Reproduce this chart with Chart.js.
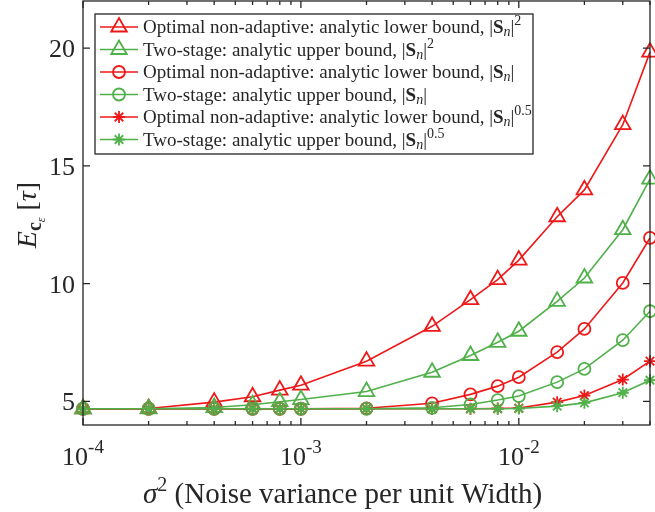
<!DOCTYPE html>
<html>
<head>
<meta charset="utf-8">
<script src="https://cdn.jsdelivr.net/npm/chart.js@4"></script>
<style>
  body { margin: 0; background: #fff; }
</style>
</head>
<body>
<canvas id="myChart" width="655" height="512"></canvas>
<script>
// noise variance per unit width (x axis)
const sigma2 = [1e-4, 2e-4, 4e-4, 6e-4, 8e-4, 1e-3, 2e-3, 4e-3, 6e-3, 8e-3, 1e-2, 1.5e-2, 2e-2, 3e-2, 4e-2];

// |S_n|^2
const lowerSq = [4.69, 4.70, 4.97, 5.20, 5.48, 5.69, 6.71, 8.19, 9.32, 10.17, 11.0, 12.84, 13.98, 16.75, 19.83];
const upperSq = [4.69, 4.69, 4.74, 4.86, 4.99, 5.08, 5.42, 6.24, 6.95, 7.51, 7.98, 9.25, 10.24, 12.29, 14.44];
// |S_n|
const lowerLin = [4.69, 4.69, 4.69, 4.69, 4.69, 4.69, 4.71, 4.92, 5.30, 5.65, 6.03, 7.09, 8.08, 10.03, 11.94];
const upperLin = [4.69, 4.69, 4.69, 4.69, 4.69, 4.69, 4.69, 4.73, 4.87, 5.06, 5.23, 5.82, 6.38, 7.60, 8.83];
// |S_n|^0.5
const lowerSqrt = [4.69, 4.69, 4.69, 4.69, 4.69, 4.69, 4.69, 4.69, 4.69, 4.70, 4.72, 4.97, 5.25, 5.93, 6.71];
const upperSqrt = [4.69, 4.69, 4.69, 4.69, 4.69, 4.69, 4.69, 4.69, 4.69, 4.69, 4.70, 4.80, 4.94, 5.37, 5.90];

const yTicks = [5, 10, 15, 20];
const xDecades = [1e-4, 1e-3, 1e-2];
const xDecadeLabels = ['-4', '-3', '-2'];

const RED = 'rgb(238,24,24)';
const GREEN = 'rgb(80,176,74)';
const INK = '#262626';
const SERIF = '"Liberation Serif", "DejaVu Serif", serif';

const legendRows = [
  { name: 'Optimal non-adaptive: analytic lower bound, ', pow: '2' },
  { name: 'Two-stage: analytic upper bound, ', pow: '2' },
  { name: 'Optimal non-adaptive: analytic lower bound, ', pow: '' },
  { name: 'Two-stage: analytic upper bound, ', pow: '' },
  { name: 'Optimal non-adaptive: analytic lower bound, ', pow: '0.5' },
  { name: 'Two-stage: analytic upper bound, ', pow: '0.5' }
];

function series(vals, color, style, radius, i) {
  return {
    data: sigma2.map((x, k) => ({ x, y: vals[k] })),
    borderColor: color,
    backgroundColor: color,
    borderWidth: 1.6,
    pointStyle: style,
    pointRadius: radius,
    pointBorderWidth: 1.8,
    pointBorderColor: color,
    pointBackgroundColor: 'rgba(0,0,0,0)',
    clip: false,
    order: 10 - i
  };
}

const datasets = [
  series(lowerSq, RED, 'triangle', 9, 0),
  series(upperSq, GREEN, 'triangle', 9, 1),
  series(lowerLin, RED, 'circle', 6, 2),
  series(upperLin, GREEN, 'circle', 6, 3),
  series(lowerSqrt, RED, 'star', 6, 4),
  series(upperSqrt, GREEN, 'star', 6, 5)
];

function rich(ctx, x, y, segs) {
  segs.forEach(s => {
    ctx.font = s.f;
    ctx.fillText(s.t, x, y + (s.dy || 0));
    x += ctx.measureText(s.t).width;
  });
  return x;
}
function richWidth(ctx, segs) {
  let w = 0;
  segs.forEach(s => { ctx.font = s.f; w += ctx.measureText(s.t).width; });
  return w;
}

const frame = {
  id: 'frame',
  afterDatasetsDraw(chart) {
    const ctx = chart.ctx, a = chart.chartArea;
    const xs = chart.scales.x, ys = chart.scales.y;
    ctx.save();
    ctx.strokeStyle = INK;
    ctx.lineWidth = 1.3;
    ctx.strokeRect(a.left, a.top, a.right - a.left, a.bottom - a.top);
    ctx.beginPath();
    // x ticks, major + minor, inward from bottom and top
    xDecades.forEach(d => {
      for (let m = 1; m <= 9; m++) {
        const v = d * m;
        if (v > xs.max) break;
        const px = xs.getPixelForValue(v);
        const len = m === 1 ? 7 : 4;
        ctx.moveTo(px, a.bottom); ctx.lineTo(px, a.bottom - len);
        ctx.moveTo(px, a.top); ctx.lineTo(px, a.top + len);
      }
    });
    yTicks.forEach(v => {
      const py = ys.getPixelForValue(v);
      ctx.moveTo(a.left, py); ctx.lineTo(a.left + 7, py);
      ctx.moveTo(a.right, py); ctx.lineTo(a.right - 7, py);
    });
    ctx.stroke();

    ctx.fillStyle = INK;
    ctx.textBaseline = 'alphabetic';
    // y tick labels
    ctx.textAlign = 'right';
    ctx.font = '26px ' + SERIF;
    yTicks.forEach(v => {
      ctx.fillText(String(v), a.left - 8, ys.getPixelForValue(v) + 9);
    });
    // x tick labels 10^k
    ctx.textAlign = 'left';
    xDecades.forEach((d, i) => {
      const segs = [
        { t: '10', f: '26px ' + SERIF },
        { t: xDecadeLabels[i], f: '19px ' + SERIF, dy: -12 }
      ];
      const w = richWidth(ctx, segs);
      rich(ctx, xs.getPixelForValue(d) - w / 2, 465, segs);
    });
    // x title
    const xt = [
      { t: '\u03C3', f: 'italic 29px ' + SERIF },
      { t: '2', f: '20px ' + SERIF, dy: -12 },
      { t: ' (Noise variance per unit Width)', f: '29px ' + SERIF }
    ];
    rich(ctx, 143, 503, xt);
    // y title, rotated
    const yt = [
      { t: 'E', f: 'italic 28px ' + SERIF },
      { t: 'c', f: 'bold 20px ' + SERIF, dy: 5 },
      { t: '\u03B5', f: 'italic 12px ' + SERIF, dy: 9 },
      { t: ' [', f: '28px ' + SERIF },
      { t: '\u03C4', f: 'italic 28px ' + SERIF },
      { t: ']', f: '28px ' + SERIF }
    ];
    ctx.translate(36, 215);
    ctx.rotate(-Math.PI / 2);
    rich(ctx, -richWidth(ctx, yt) / 2, 0, yt);
    ctx.restore();
  },
  afterDraw(chart) {
    const ctx = chart.ctx;
    const bx = 95, by = 14, bw = 438, bh = 140;
    ctx.save();
    ctx.fillStyle = '#fff';
    ctx.fillRect(bx, by, bw, bh);
    ctx.strokeStyle = INK;
    ctx.lineWidth = 1.3;
    ctx.strokeRect(bx, by, bw, bh);
    legendRows.forEach((r, i) => {
      const ds = chart.data.datasets[i];
      const cy = 27 + i * 22.5;
      ctx.strokeStyle = ds.borderColor;
      ctx.lineWidth = ds.borderWidth;
      ctx.beginPath();
      ctx.moveTo(100, cy); ctx.lineTo(138, cy);
      ctx.stroke();
      ctx.lineWidth = ds.pointBorderWidth;
      ctx.fillStyle = 'rgba(0,0,0,0)';
      Chart.helpers.drawPoint(ctx, { pointStyle: ds.pointStyle, radius: ds.pointRadius, borderWidth: ds.pointBorderWidth }, 119, cy);
      ctx.fillStyle = INK;
      const segs = [
        { t: r.name + '|', f: '19px ' + SERIF },
        { t: 'S', f: 'bold 19px ' + SERIF },
        { t: 'n', f: 'italic 14px ' + SERIF, dy: 3 },
        { t: '|', f: '19px ' + SERIF }
      ];
      if (r.pow) segs.push({ t: r.pow, f: '14px ' + SERIF, dy: -8 });
      rich(ctx, 143, cy + 6, segs);
    });
    ctx.restore();
  }
};

new Chart(document.getElementById('myChart'), {
  type: 'line',
  data: { datasets },
  options: {
    responsive: false,
    animation: false,
    layout: { autoPadding: false, padding: { left: 83, top: 1, right: 5, bottom: 87 } },
    scales: {
      x: { type: 'logarithmic', min: 1e-4, max: 0.04, display: false },
      y: { type: 'linear', min: 4, max: 22, display: false }
    },
    elements: { line: { tension: 0 } },
    plugins: { legend: { display: false }, tooltip: { enabled: false } }
  },
  plugins: [frame]
});
</script>
</body>
</html>
